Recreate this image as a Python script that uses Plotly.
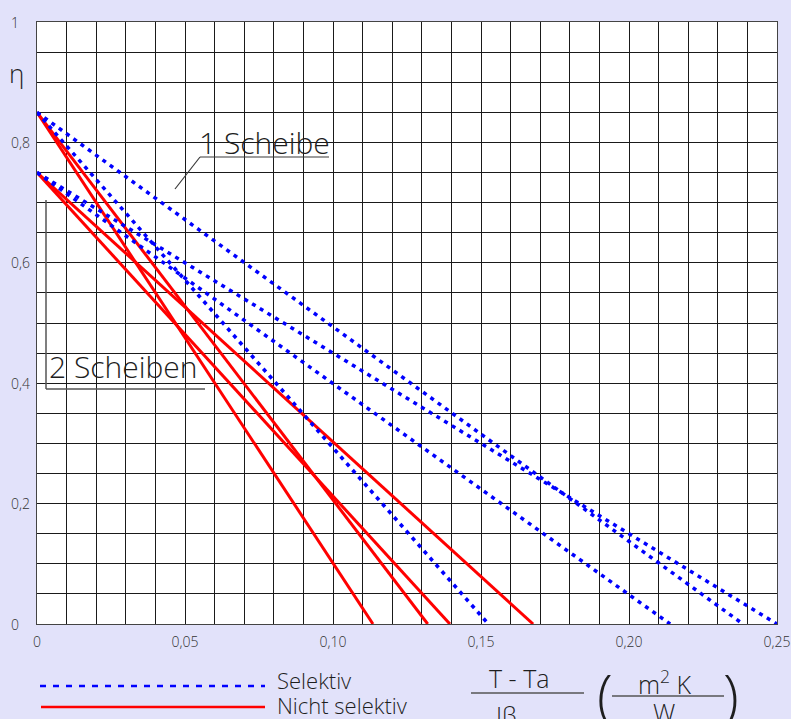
import plotly.graph_objects as go

# ---------------- data ----------------
# Nicht selektiv (red, solid): start efficiency at x=0, zero crossing on x axis
red_x0 = [0.0, 0.0, 0.0, 0.0]
red_y0 = [0.85, 0.85, 0.75, 0.75]
red_x1 = [0.1135, 0.132, 0.1395, 0.1676]
red_y1 = [0.0, 0.0, 0.0, 0.0]

# Selektiv (blue, dotted)
blue_x0 = [0.0, 0.0, 0.0, 0.0]
blue_y0 = [0.85, 0.75, 0.85, 0.75]
blue_x1 = [0.2385, 0.25, 0.1525, 0.2139]
blue_y1 = [0.0, 0.0, 0.0, 0.0]

x_tickvals = [0, 0.05, 0.10, 0.15, 0.20, 0.25]
x_ticktext = ["0", "0,05", "0,10", "0,15", "0,20", "0,25"]
y_tickvals = [0, 0.2, 0.4, 0.6, 0.8, 1]
y_ticktext = ["0", "0,2", "0,4", "0,6", "0,8", "1"]

# ---------------- layout geometry ----------------
W, H = 791, 719
L, R, T, B = 37, 777, 22, 624
BG = "#e2e2fa"
TXT = "#1e1e1e"
FONT = "Open Sans"


def px(xp, yp):
    return (xp - L) / (R - L), (B - yp) / (B - T)


fig = go.Figure()

for i in range(len(red_x0)):
    fig.add_trace(go.Scatter(
        x=[red_x0[i], red_x1[i]], y=[red_y0[i], red_y1[i]],
        mode="lines", line=dict(color="#ff0000", width=3),
        showlegend=False, hoverinfo="skip"))

for i in range(len(blue_x0)):
    fig.add_trace(go.Scatter(
        x=[blue_x0[i], blue_x1[i]], y=[blue_y0[i], blue_y1[i]],
        mode="lines", line=dict(color="#0000ff", width=3.5, dash="4px,5px"),
        showlegend=False, hoverinfo="skip"))

grid = "#1a1a1a"
fig.update_xaxes(
    range=[0, 0.25], tickvals=x_tickvals, ticktext=x_ticktext,
    showgrid=True, gridcolor=grid, gridwidth=1,
    minor=dict(dtick=0.01, showgrid=True, gridcolor=grid, gridwidth=1),
    showline=True, linecolor="#444", linewidth=1, mirror=True,
    zeroline=False, ticks="", ticklabelstandoff=5, automargin=False,
    tickfont=dict(family=FONT, size=14, color="#333", weight=300), fixedrange=True)
fig.update_yaxes(
    range=[0, 1], tickvals=y_tickvals, showticklabels=False,
    showgrid=True, gridcolor=grid, gridwidth=1,
    minor=dict(dtick=0.05, showgrid=True, gridcolor=grid, gridwidth=1),
    showline=True, linecolor="#444", linewidth=1, mirror=True,
    zeroline=False, ticks="", automargin=False, fixedrange=True)

annotations = []
# y tick labels (left aligned)
for v, t in zip(y_tickvals, y_ticktext):
    annotations.append(dict(xref="paper", yref="y", x=px(9, 0)[0], y=v,
                            text=t, showarrow=False, xanchor="left", yanchor="middle",
                            font=dict(family=FONT, size=14, color="#333", weight=300)))


def add_text(xp, yp, text, size, xanchor="center", yanchor="middle", color=TXT):
    xx, yy = px(xp, yp)
    annotations.append(dict(xref="paper", yref="paper", x=xx, y=yy, text=text,
                            showarrow=False, xanchor=xanchor, yanchor=yanchor,
                            font=dict(family=FONT, size=size, color=color, weight=300)))


add_text(16, 73, "η", 26)
add_text(197, 142, "1 Scheibe", 30, xanchor="left")
add_text(47, 366, "2 Scheiben", 30, xanchor="left")

# legend
add_text(275, 680, "Selektiv", 22, xanchor="left")
add_text(275, 705, "Nicht selektiv", 22, xanchor="left")

# formula
add_text(519, 678, "T - Ta", 25)
add_text(506, 714, "Iβ", 24)
add_text(605, 694, "(", 58)
add_text(731, 694, ")", 58)
add_text(665, 682, "m<sup>2</sup> K", 25)
add_text(664, 712, "W", 25)

shapes = []


def add_line(x0, y0, x1, y1, color="#3a3a3a", width=1.2, dash="solid"):
    a = px(x0, y0)
    b = px(x1, y1)
    shapes.append(dict(type="line", xref="paper", yref="paper",
                       x0=a[0], y0=a[1], x1=b[0], y1=b[1],
                       line=dict(color=color, width=width, dash=dash)))


# label leader lines
add_line(200, 157, 329, 157)
add_line(200, 157, 175, 189)
add_line(46, 200, 46, 389, color="#555", width=1.5)
add_line(46, 389, 205, 389, color="#555", width=1.5)

# legend samples
add_line(40, 686, 265, 686, color="#0000ff", width=2.5, dash="6px,7px")
add_line(41, 707, 265, 707, color="#ff0000", width=2.5)

# fraction bars
add_line(471, 693, 584, 693, color="#555", width=1.5)
add_line(612, 696, 724, 696, color="#555", width=1.5)

fig.update_layout(
    width=W, height=H,
    margin=dict(l=L, r=W - R, t=T, b=H - B, autoexpand=False),
    paper_bgcolor=BG, plot_bgcolor="white",
    showlegend=False,
    annotations=annotations, shapes=shapes,
    font=dict(family=FONT, color=TXT),
)

fig.write_html(
    "out.html",
    config={"displayModeBar": False},
    post_script="document.body.style.margin='0';document.body.style.overflow='hidden';",
)
